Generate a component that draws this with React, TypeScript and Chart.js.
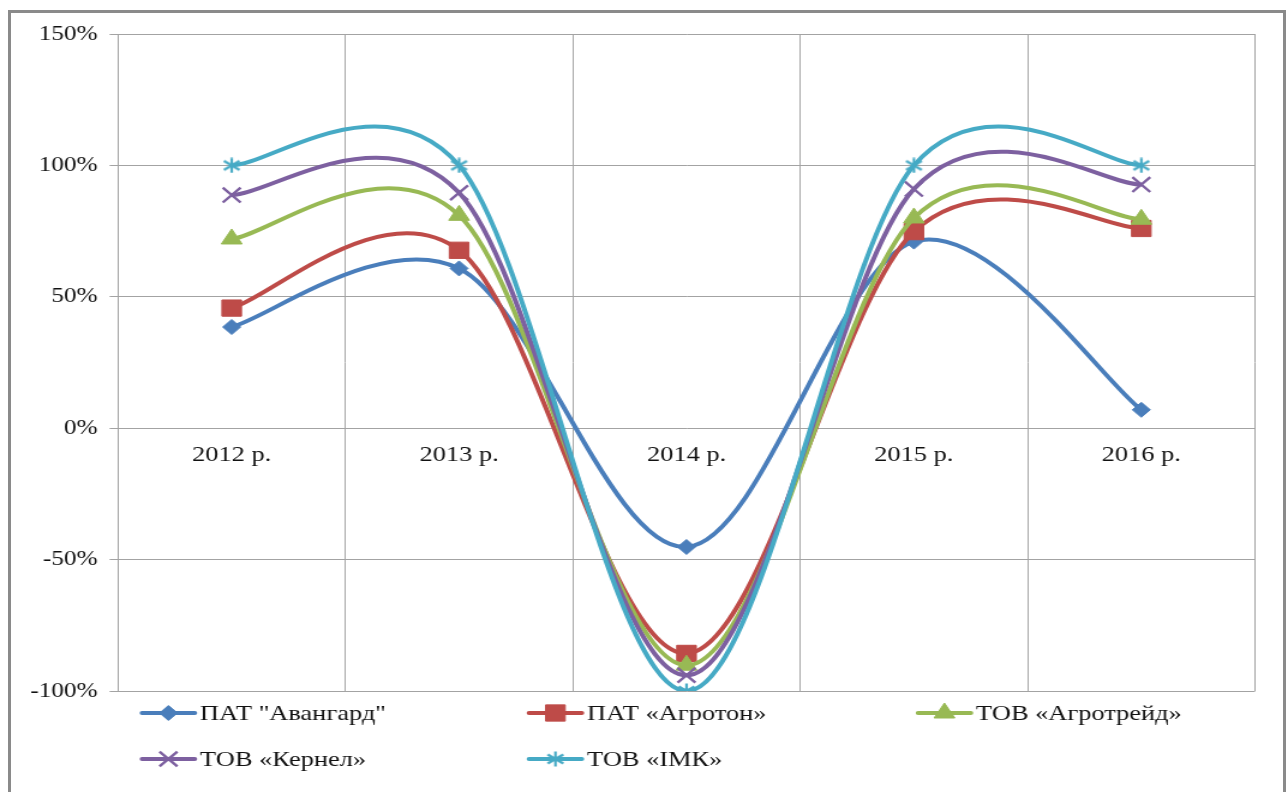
import React, { useEffect, useRef } from 'react';
import { Chart, registerables } from 'chart.js';
import { drawPoint } from 'chart.js/helpers';

Chart.register(...registerables);

// ---- data ----
const categories = ['2012 р.', '2013 р.', '2014 р.', '2015 р.', '2016 р.'];
const seriesNames = ['ПАТ "Авангард"', 'ПАТ «Агротон»', 'ТОВ «Агротрейд»', 'ТОВ «Кернел»', 'ТОВ «ІМК»'];
const avangard = [38.5, 60.8, -45.2, 71, 7];
const agroton = [45.7, 67.7, -85.7, 74.8, 76];
const agrotrade = [72, 81, -90.2, 80, 79.5];
const kernel = [88.7, 89.6, -94, 91, 92.7];
const imk = [100, 100, -100, 100, 100];
const yTicks = [-100, -50, 0, 50, 100, 150];

const colors = ['#4a7ebb', '#be4b48', '#98b954', '#7d60a0', '#46aac5'];

// canvas is drawn narrower and stretched horizontally like the reference picture
const CW = 1073;
const CH = 792;
const S = 1288 / CW;
const FONT = '"Liberation Serif", "Times New Roman", serif';

function makeStar(color: string) {
  const c = document.createElement('canvas');
  c.width = 16;
  c.height = 16;
  const g = c.getContext('2d')!;
  g.strokeStyle = color;
  g.lineWidth = 2.2;
  g.beginPath();
  g.moveTo(8, 0.5); g.lineTo(8, 15.5);
  g.moveTo(1.5, 3.5); g.lineTo(14.5, 12.5);
  g.moveTo(1.5, 12.5); g.lineTo(14.5, 3.5);
  g.stroke();
  return c;
}

// Excel-like (Catmull-Rom) smoothing of the line through the data points
const excelSmooth = {
  id: 'excelSmooth',
  beforeDatasetDraw(chart: any, args: any) {
    const meta = args.meta;
    const pts = meta.data;
    const n = pts.length;
    for (let i = 0; i < n; i++) {
      const p = pts[i];
      const prev = pts[Math.max(i - 1, 0)];
      const next = pts[Math.min(i + 1, n - 1)];
      const dx = (next.x - prev.x) / 6;
      const dy = (next.y - prev.y) / 6;
      p.cp1x = p.x - dx; p.cp1y = p.y - dy;
      p.cp2x = p.x + dx; p.cp2y = p.y + dy;
    }
    if (meta.dataset) {
      meta.dataset._pointsUpdated = true;
      meta.dataset._path = undefined;
    }
  },
};

const columnLegend = {
  id: 'columnLegend',
  afterDraw(chart: any) {
    const { ctx, chartArea } = chart;
    const colX = [0, 322.4, 646.5];
    const rowY = [chartArea.bottom + 22, chartArea.bottom + 68];
    ctx.save();
    chart.data.datasets.forEach((ds: any, i: number) => {
      const col = i % 3;
      const row = Math.floor(i / 3);
      const x0 = chartArea.left + 20 + colX[col];
      const y = rowY[row];
      ctx.strokeStyle = ds.borderColor;
      ctx.lineWidth = 4;
      ctx.lineCap = 'round';
      ctx.beginPath();
      ctx.moveTo(x0, y);
      ctx.lineTo(x0 + 44, y);
      ctx.stroke();
      ctx.lineCap = 'butt';
      ctx.fillStyle = ds.pointBackgroundColor;
      ctx.strokeStyle = ds.pointBorderColor;
      ctx.lineWidth = ds.pointBorderWidth;
      drawPoint(ctx, { pointStyle: ds.pointStyle, radius: ds.pointRadius, borderWidth: ds.pointBorderWidth, rotation: 0 } as any, x0 + 22, y);
      ctx.fillStyle = '#111';
      ctx.font = `22px ${FONT}`;
      ctx.textBaseline = 'middle';
      ctx.textAlign = 'left';
      ctx.fillText(ds.label, x0 + 48.3, y + 1);
    });
    ctx.restore();
  },
};

export default function App() {
  const ref = useRef<HTMLCanvasElement>(null);

  useEffect(() => {
    if (!ref.current) return;
    const values = [avangard, agroton, agrotrade, kernel, imk];
    const styles: any[] = ['rectRot', 'rect', 'triangle', 'crossRot', makeStar(colors[4])];
    const radii = [7.5, 11.5, 10, 10.5, 8];
    const bws = [1, 1, 1, 2.4, 0];
    const datasets = values.map((v, i) => ({
      label: seriesNames[i],
      data: v,
      borderColor: colors[i],
      backgroundColor: colors[i],
      borderWidth: 4,
      tension: 0.4,
      fill: false,
      pointStyle: styles[i],
      pointRadius: radii[i],
      pointBackgroundColor: colors[i],
      pointBorderColor: colors[i],
      pointBorderWidth: bws[i],
      order: -i,
    }));

    const chart = new Chart(ref.current, {
      type: 'line',
      data: { labels: categories, datasets },
      options: {
        responsive: false,
        animation: false,
        layout: { padding: { left: 0, top: 34, right: CW - 1255 / S, bottom: CH - 691 } },
        plugins: {
          legend: { display: false },
          tooltip: { enabled: false },
        },
        scales: {
          x: {
            type: 'category',
            position: { y: 0 } as any,
            offset: true,
            grid: { offset: true, color: '#a3a3a3', lineWidth: 1, drawTicks: false },
            border: { display: false },
            ticks: { font: { family: FONT, size: 22 }, color: '#111', padding: 14, maxRotation: 0, autoSkip: false },
          },
          y: {
            min: -100,
            max: 150,
            afterBuildTicks: (s: any) => { s.ticks = yTicks.map((v) => ({ value: v })); },
            afterFit: (s: any) => { s.width = 118 / S; },
            ticks: {
              callback: (v: any) => `${v}%`,
              font: { family: FONT, size: 21 },
              color: '#111',
              padding: 10,
            },
            grid: { color: '#a3a3a3', lineWidth: 1, tickLength: 7, drawTicks: true },
            border: { display: true, color: '#a3a3a3' },
          },
        },
      },
      plugins: [excelSmooth, columnLegend],
    });
    return () => chart.destroy();
  }, []);

  return (
    <div style={{ position: 'fixed', left: 0, top: 0, width: 1288, height: 792, background: '#fff', overflow: 'hidden' }}>
      <div style={{ position: 'absolute', left: 0, top: 0, width: CW, height: CH, transform: `scaleX(${S})`, transformOrigin: '0 0' }}>
        <canvas ref={ref} width={CW} height={CH} style={{ display: 'block' }} />
      </div>
      <div style={{ position: 'absolute', left: 8, top: 10, width: 1278, height: 830, border: '3px solid #8a8a8a', boxSizing: 'border-box', pointerEvents: 'none' }} />
    </div>
  );
}
